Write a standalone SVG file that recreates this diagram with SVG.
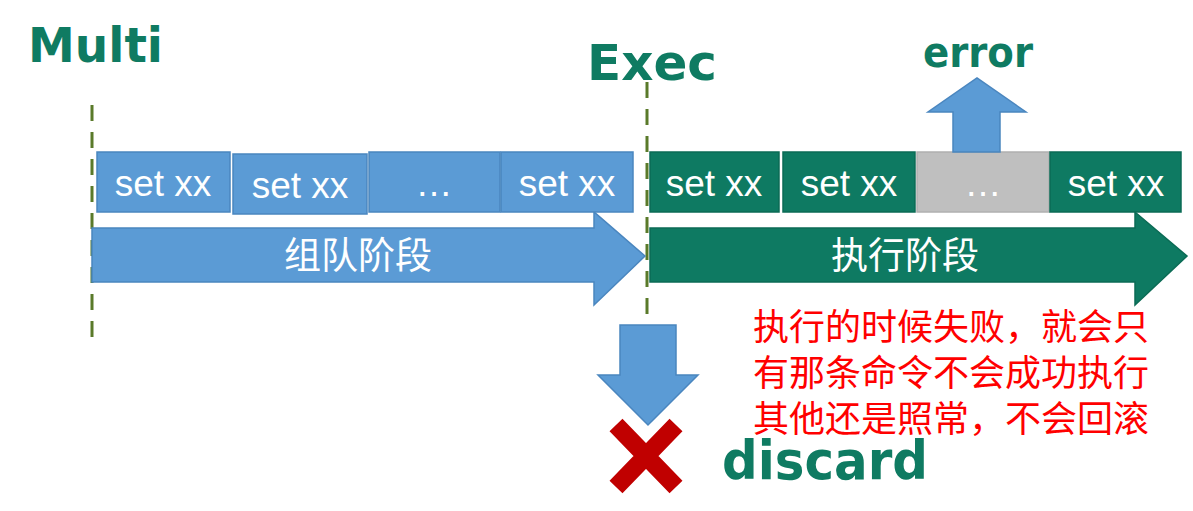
<svg xmlns="http://www.w3.org/2000/svg" width="1193" height="511" viewBox="0 0 1193 511">
<style>
.title{font-family:"DejaVu Sans",Verdana,sans-serif;font-weight:bold;fill:#0f7b62}
.cmd{font-family:"Liberation Sans",Arial,sans-serif;font-size:37px;fill:#ffffff;text-anchor:middle}
.stage{font-family:"Noto Sans CJK SC",sans-serif;font-size:37px;fill:#ffffff;text-anchor:middle}
.note{font-family:"Noto Sans CJK SC",sans-serif;font-size:36px;fill:#ff0000}
.blue{fill:#5b9bd5;stroke:#4a86bf;stroke-width:1.5}
.green{fill:#0e7a62;stroke:#0b6b55;stroke-width:1.5}
.gray{fill:#bfbfbf;stroke:#b0b0b0;stroke-width:1.5}
.dash{stroke:#5a7a2a;stroke-width:3;stroke-dasharray:16 11;fill:none}
</style>
<rect width="1193" height="511" fill="#ffffff"/>
<g id="labels">
<text class="title" x="28" y="62" font-size="48" textLength="135" lengthAdjust="spacingAndGlyphs">Multi</text>
<text class="title" x="587" y="80" font-size="50" textLength="130" lengthAdjust="spacingAndGlyphs">Exec</text>
<text class="title" x="923" y="67" font-size="42" textLength="110" lengthAdjust="spacingAndGlyphs">error</text>
<text class="title" x="722" y="479" font-size="53" textLength="206" lengthAdjust="spacingAndGlyphs">discard</text>
</g>
<g id="connectors">
<line class="dash" x1="92" y1="105" x2="92" y2="345"/>
<line class="dash" x1="647" y1="82" x2="647" y2="320"/>
</g>
<g id="queue-arrow">
<polygon class="blue" points="92,228 594,228 594,212 645,256 594,305 594,282 92,282"/>
<text class="stage" x="358" y="269">组队阶段</text>
</g>
<g id="exec-arrow">
<polygon class="green" points="650,228 1135,228 1135,212 1187,256 1135,305 1135,282 650,282"/>
<text class="stage" x="905" y="269">执行阶段</text>
</g>
<g id="queue-cmd1"><rect class="blue" x="97" y="152" width="133" height="60"/><text class="cmd" x="163" y="196">set xx</text></g>
<g id="queue-cmd2"><rect class="blue" x="233" y="154" width="134" height="60"/><text class="cmd" x="300" y="198">set xx</text></g>
<g id="queue-cmd3"><rect class="blue" x="369" y="152" width="131" height="60"/><text class="cmd" x="434" y="196">…</text></g>
<g id="queue-cmd4"><rect class="blue" x="501" y="152" width="132" height="60"/><text class="cmd" x="567" y="196">set xx</text></g>
<g id="exec-cmd1"><rect class="green" x="650" y="152" width="129" height="60"/><text class="cmd" x="714" y="196">set xx</text></g>
<g id="exec-cmd2"><rect class="green" x="783" y="152" width="132" height="60"/><text class="cmd" x="849" y="196">set xx</text></g>
<g id="exec-cmd3"><rect class="gray" x="917" y="152" width="132" height="60"/><text class="cmd" x="983" y="196">…</text></g>
<g id="exec-cmd4"><rect class="green" x="1050" y="152" width="131" height="60"/><text class="cmd" x="1116" y="196">set xx</text></g>
<g id="error-arrow">
<polygon class="blue" points="953,152 953,112 928,112 977,78 1026,112 1000,112 1000,152"/>
</g>
<g id="discard-arrow">
<polygon class="blue" points="620,325 676,325 676,375 698,375 648,425 598,375 620,375"/>
</g>
<g id="discard-x">
<path d="M616,425 L676,487 M676,425 L616,487" stroke="#c00000" stroke-width="18" fill="none"/>
</g>
<g id="note">
<text class="note" x="753" y="340">执行的时候失败，就会只</text>
<text class="note" x="753" y="386">有那条命令不会成功执行</text>
<text class="note" x="753" y="432">其他还是照常，不会回滚</text>
</g>
</svg>
